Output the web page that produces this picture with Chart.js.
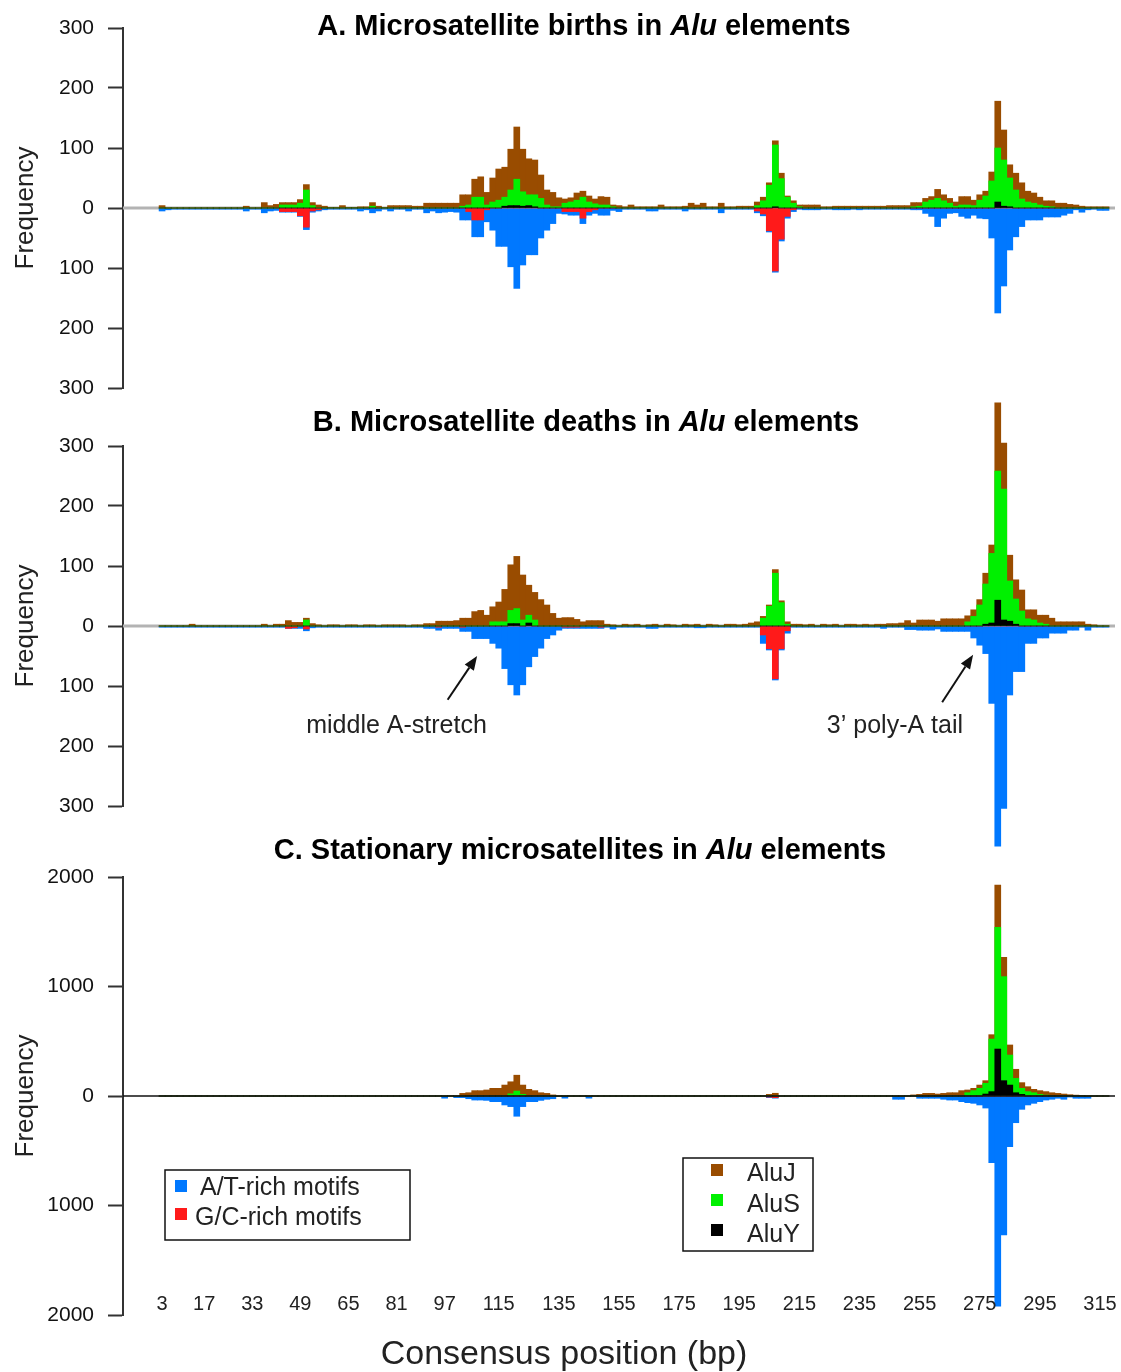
<!DOCTYPE html>
<html><head><meta charset="utf-8">
<script src="https://cdn.jsdelivr.net/npm/chart.js@4.4.1/dist/chart.umd.min.js"></script>
<style>
html,body{margin:0;padding:0;background:#fff;}
body{width:1121px;height:1372px;position:relative;overflow:hidden;}
canvas{position:absolute;left:0;}
</style></head><body>
<canvas id="cA" width="1121" height="416" style="top:0px"></canvas>
<canvas id="cB" width="1121" height="465" style="top:395px"></canvas>
<canvas id="cC" width="1121" height="552" style="top:820px"></canvas>
<script>
// Consensus positions (bin labels, 2 bp per bar)
const positions = [
3,5,7,9,11,13,15,17,19,21,
23,25,27,29,31,33,35,37,39,41,
43,45,47,49,51,53,55,57,59,61,
63,65,67,69,71,73,75,77,79,81,
83,85,87,89,91,93,95,97,99,101,
103,105,107,109,111,113,115,117,119,121,
123,125,127,129,131,133,135,137,139,141,
143,145,147,149,151,153,155,157,159,161,
163,165,167,169,171,173,175,177,179,181,
183,185,187,189,191,193,195,197,199,201,
203,205,207,209,211,213,215,217,219,221,
223,225,227,229,231,233,235,237,239,241,
243,245,247,249,251,253,255,257,259,261,
263,265,267,269,271,273,275,277,279,281,
283,285,287,289,291,293,295,297,299,301,
303,305,307,309,311,313,315,317];
const xTickLabels = [3,17,33,49,65,81,97,115,135,155,175,195,215,235,255,275,295,315];

// ---- Panel A: births ----
const A_AluJ = [
4,0,0,0,0,0,0,0,0,0,
0,0,0,0,3,0,0,9,4,6,
9,9,9,14,39,9,5,3,1,1,
4,1,1,2,2,9,3,1,4,4,
4,4,3,3,8,8,8,8,8,8,
22,22,48,52,26,50,65,68,98,135,
98,82,80,55,30,26,17,15,17,25,
28,20,15,19,18,5,4,2,5,2,
2,2,2,5,2,2,2,3,8,5,
8,2,2,8,2,2,3,3,3,10,
18,42,112,58,20,12,5,5,5,5,
2,2,3,3,3,3,3,3,3,3,
3,4,4,4,4,9,9,16,19,31,
22,16,10,19,19,13,22,28,60,178,
130,72,58,42,28,25,18,12,12,8,
8,6,5,3,2,2,2,2];
const A_AluS = [
0,0,0,0,0,0,0,0,0,0,
0,0,0,0,0,0,0,0,0,0,
5,5,5,8,30,4,0,0,0,0,
0,0,0,0,0,3,0,0,0,0,
0,0,0,0,0,0,0,0,0,0,
3,5,18,18,5,10,13,18,30,48,
27,22,22,16,5,2,2,8,10,13,
18,10,7,5,5,2,0,0,0,0,
0,0,0,0,0,0,0,0,0,0,
0,0,0,0,0,0,0,0,0,4,
12,38,105,49,18,8,2,0,0,0,
0,0,0,0,0,0,0,0,0,0,
0,0,0,0,0,2,3,10,13,16,
12,8,3,5,5,4,13,20,45,100,
80,50,30,15,10,8,5,3,2,0,
0,0,0,0,0,0,0,0];
const A_AluY = [
0,0,0,0,0,0,0,0,0,0,
0,0,0,0,0,0,0,0,0,0,
0,0,0,0,0,0,0,0,0,0,
0,0,0,0,0,0,0,0,0,0,
0,0,0,0,0,0,0,0,0,0,
0,0,0,0,0,0,0,3,4,4,
3,4,2,0,0,0,0,0,0,0,
0,0,0,0,0,0,0,0,0,0,
0,0,0,0,0,0,0,0,0,0,
0,0,0,0,0,0,0,0,0,0,
0,0,2,0,0,0,0,0,0,0,
0,0,0,0,0,0,0,0,0,0,
0,0,0,0,0,0,0,0,0,0,
0,0,0,0,0,0,0,0,0,10,
3,2,0,0,0,0,0,0,0,0,
0,0,0,0,0,0,0,0];
const A_AT = [
5,3,2,2,2,2,2,2,2,2,
2,2,2,2,5,2,2,8,5,4,
7,7,7,14,36,7,5,3,2,2,
2,2,2,5,3,8,5,2,5,2,
2,5,2,2,8,5,8,7,6,7,
20,20,48,48,23,37,64,64,98,134,
95,78,78,50,37,26,9,10,12,12,
26,12,9,12,12,4,6,2,2,2,
2,5,5,2,2,2,2,5,2,2,
2,2,2,8,2,2,2,2,2,8,
13,40,107,55,17,6,2,3,3,3,
2,2,3,3,3,2,3,2,2,2,
2,2,2,2,2,3,3,9,14,31,
17,9,8,14,17,12,17,18,50,175,
130,70,48,31,20,20,20,15,15,15,
12,9,3,7,3,2,4,4];
const A_GC = [
0,0,0,0,0,0,0,0,0,0,
0,0,0,0,0,0,0,0,0,0,
6,6,6,13,32,5,3,0,0,0,
0,0,0,0,0,0,0,0,0,0,
0,0,0,0,0,0,0,0,0,0,
0,6,20,20,3,0,0,0,0,0,
0,0,0,0,0,0,0,6,6,6,
17,6,3,0,0,0,0,0,0,0,
0,0,0,0,0,0,0,0,0,0,
0,0,0,0,0,0,0,0,0,5,
10,38,105,52,14,3,0,0,0,0,
0,0,0,0,0,0,0,0,0,0,
0,0,0,0,0,0,0,0,0,0,
0,0,0,0,0,0,0,0,0,0,
0,0,0,0,0,0,0,0,0,0,
0,0,0,0,0,0,0,0];

// ---- Panel B: deaths ----
const B_AluJ = [
0,0,0,0,0,3,0,0,0,0,
0,0,0,0,0,0,0,3,0,3,
3,9,6,6,13,4,2,0,2,2,
0,2,2,0,2,2,0,2,2,2,
2,0,2,2,4,4,8,8,8,9,
13,13,24,26,18,32,40,61,102,116,
85,68,56,44,35,21,13,14,14,11,
7,9,9,9,3,2,0,3,2,3,
0,2,3,0,3,2,0,3,2,3,
0,3,2,0,3,3,2,3,5,7,
16,35,94,42,7,3,3,2,3,0,
3,2,3,0,3,3,2,3,2,3,
3,4,4,5,9,5,10,10,10,8,
12,12,12,12,17,27,44,88,135,372,
305,118,77,60,27,27,18,18,13,7,
7,7,7,7,3,2,0,0];
const B_AluS = [
0,0,0,0,0,0,0,0,0,0,
0,0,0,0,0,0,0,0,0,0,
0,0,0,0,10,0,0,0,0,0,
0,0,0,0,0,0,0,0,0,0,
0,0,0,0,0,0,0,0,0,0,
0,0,0,0,0,7,7,7,26,29,
10,18,10,0,0,0,0,0,0,0,
0,0,0,0,0,0,0,0,0,0,
0,0,0,0,0,0,0,0,0,0,
0,0,0,0,0,0,0,0,0,0,
13,33,88,39,3,0,0,0,0,0,
0,0,0,0,0,0,0,0,0,0,
0,0,0,0,0,0,0,0,0,0,
0,0,0,0,7,16,35,70,121,258,
228,75,45,25,12,10,5,3,0,0,
0,0,0,0,0,0,0,0];
const B_AluY = [
0,0,0,0,0,0,0,0,0,0,
0,0,0,0,0,0,0,0,0,0,
0,0,0,0,0,0,0,0,0,0,
0,0,0,0,0,0,0,0,0,0,
0,0,0,0,0,0,0,0,0,0,
0,0,0,0,0,0,0,0,4,4,
0,5,0,0,0,0,0,0,0,0,
0,0,0,0,0,0,0,0,0,0,
0,0,0,0,0,0,0,0,0,0,
0,0,0,0,0,0,0,0,0,0,
0,0,0,0,0,0,0,0,0,0,
0,0,0,0,0,0,0,0,0,0,
0,0,0,0,0,0,0,0,0,0,
0,0,0,0,0,0,0,3,5,43,
10,8,3,0,0,0,0,0,0,0,
0,0,0,0,0,0,0,0];
const B_AT = [
2,2,2,2,2,2,2,2,2,2,
2,2,2,2,2,2,2,2,2,2,
2,4,4,4,8,3,2,2,2,2,
2,2,2,2,2,2,2,2,2,2,
2,2,2,2,4,4,7,4,4,4,
9,9,21,21,21,29,37,71,98,115,
98,68,51,37,21,15,7,4,4,4,
4,4,4,4,2,5,2,2,2,2,
2,4,4,2,2,2,2,2,2,3,
3,2,2,2,2,2,2,2,2,2,
29,40,90,40,12,2,2,2,2,2,
2,2,2,2,2,2,2,2,2,2,
4,2,2,2,6,6,7,7,7,5,
9,9,9,9,9,20,32,46,129,367,
304,115,76,76,29,29,20,20,12,12,
12,7,7,2,7,2,2,2];
const B_GC = [
0,0,0,0,0,0,0,0,0,0,
0,0,0,0,0,0,0,0,0,0,
0,4,3,0,5,0,0,0,0,0,
0,0,0,0,0,0,0,0,0,0,
0,0,0,0,0,0,2,0,0,0,
2,0,0,0,0,0,0,0,0,0,
0,0,0,0,0,0,0,2,2,2,
0,0,0,2,0,0,0,0,0,0,
0,0,0,0,0,0,0,0,0,0,
0,0,0,0,0,0,0,0,0,0,
15,38,88,38,8,0,0,0,0,0,
0,0,0,0,0,0,0,0,0,0,
0,0,0,0,0,0,0,0,0,0,
0,0,0,0,0,0,0,0,0,0,
0,0,0,0,0,0,0,0,0,0,
0,0,0,0,0,0,0,0];

// ---- Panel C: stationary ----
const C_AluJ = [
0,0,0,0,0,0,0,0,0,0,
0,0,0,0,0,0,0,0,0,0,
0,0,0,0,0,0,0,0,0,0,
0,0,0,0,0,0,0,0,0,0,
0,0,0,0,0,0,0,0,0,0,
24,30,49,49,55,70,70,100,130,190,
100,61,49,30,24,10,0,0,0,0,
0,0,0,0,0,0,0,0,0,0,
0,0,0,0,0,0,0,0,0,0,
0,0,0,0,0,0,0,0,0,0,
0,15,25,0,0,0,0,0,0,0,
0,0,0,0,0,0,0,0,0,0,
0,0,0,0,0,10,15,24,24,18,
24,30,30,49,55,70,100,140,560,1927,
1266,466,244,122,85,61,49,40,30,24,
18,12,8,5,0,0,0,0];
const C_AluS = [
0,0,0,0,0,0,0,0,0,0,
0,0,0,0,0,0,0,0,0,0,
0,0,0,0,0,0,0,0,0,0,
0,0,0,0,0,0,0,0,0,0,
0,0,0,0,0,0,0,0,0,0,
0,0,0,0,0,0,0,0,20,45,
15,0,0,0,0,0,0,0,0,0,
0,0,0,0,0,0,0,0,0,0,
0,0,0,0,0,0,0,0,0,0,
0,0,0,0,0,0,0,0,0,0,
0,0,0,0,0,0,0,0,0,0,
0,0,0,0,0,0,0,0,0,0,
0,0,0,0,0,0,0,0,0,0,
0,0,0,0,30,49,70,116,520,1540,
1090,374,161,70,40,30,15,8,0,0,
0,0,0,0,0,0,0,0];
const C_AluY = [
0,0,0,0,0,0,0,0,0,0,
0,0,0,0,0,0,0,0,0,0,
0,0,0,0,0,0,0,0,0,0,
0,0,0,0,0,0,0,0,0,0,
0,0,0,0,0,0,0,0,0,0,
0,0,0,0,0,0,0,0,0,0,
0,0,0,0,0,0,0,0,0,0,
0,0,0,0,0,0,0,0,0,0,
0,0,0,0,0,0,0,0,0,0,
0,0,0,0,0,0,0,0,0,0,
0,0,0,0,0,0,0,0,0,0,
0,0,0,0,0,0,0,0,0,0,
0,0,0,0,0,0,0,0,0,0,
0,0,0,0,0,0,0,18,40,429,
140,100,30,15,0,0,0,0,0,0,
0,0,0,0,0,0,0,0];
const C_AT = [
0,0,0,0,0,0,0,0,0,0,
0,0,0,0,0,0,0,0,0,0,
0,0,0,0,0,0,0,0,0,0,
0,0,0,0,0,0,0,0,0,0,
0,0,0,0,0,0,0,20,0,15,
15,25,37,37,40,52,52,82,97,185,
97,52,52,40,30,25,5,20,0,0,
0,20,0,0,0,0,0,0,0,0,
0,0,0,0,0,0,0,0,0,0,
0,0,0,0,0,0,0,0,0,0,
0,15,20,0,0,0,0,0,0,0,
0,0,0,0,0,0,0,0,0,0,
0,0,30,30,0,0,21,21,21,21,
30,37,37,52,61,67,82,110,609,1920,
1269,463,244,122,82,67,52,37,30,21,
30,10,21,21,21,0,0,0];
const C_GC = [
0,0,0,0,0,0,0,0,0,0,
0,0,0,0,0,0,0,0,0,0,
0,0,0,0,0,0,0,0,0,0,
0,0,0,0,0,0,0,0,0,0,
0,0,0,0,0,0,0,0,0,0,
0,0,0,0,0,0,0,0,0,0,
0,0,0,0,0,0,0,0,0,0,
0,0,0,0,0,0,0,0,0,0,
0,0,0,0,0,0,0,0,0,0,
0,0,0,0,0,0,0,0,0,0,
0,10,15,0,0,0,0,0,0,0,
0,0,0,0,0,0,0,0,0,0,
0,0,0,0,0,0,0,0,0,0,
0,0,0,0,0,0,0,0,0,0,
0,0,0,0,0,0,0,0,0,0,
0,0,0,0,0,0,0,0];

const seriesNames = ['AluJ','AluS','AluY','A/T-rich motifs','G/C-rich motifs'];
const COLORS = {AluJ:'#994c00', AluS:'#00f000', AluY:'#000000', AT:'#0078ff', GC:'#ff1a1a'};
const FONT = "'Liberation Sans', Arial, Helvetica, sans-serif";

function makeDatasets(J, S, Y, AT, GC) {
  const up = a => a.map((v, i) => ({x: positions[i], y: v}));
  const down = a => a.map((v, i) => ({x: positions[i], y: -v}));
  const common = {grouped: false, barPercentage: 1, categoryPercentage: 1, borderWidth: 0, clip: false};
  return [
    Object.assign({label: seriesNames[2], data: up(Y), backgroundColor: COLORS.AluY, order: 1}, common),
    Object.assign({label: seriesNames[1], data: up(S), backgroundColor: COLORS.AluS, order: 2}, common),
    Object.assign({label: seriesNames[0], data: up(J), backgroundColor: COLORS.AluJ, order: 3}, common),
    Object.assign({label: seriesNames[4], data: down(GC), backgroundColor: COLORS.GC, order: 4}, common),
    Object.assign({label: seriesNames[3], data: down(AT), backgroundColor: COLORS.AT, order: 5}, common)
  ];
}

function drawZero(chart, z) {
  const {ctx, chartArea} = chart;
  const y = chart.scales.y.getPixelForValue(0);
  ctx.save();
  ctx.strokeStyle = z.color; ctx.lineWidth = z.width;
  ctx.beginPath(); ctx.moveTo(chartArea.left, y); ctx.lineTo(chartArea.right, y); ctx.stroke();
  ctx.restore();
}
function drawTitle(ctx, t) {
  let total = 0;
  const fonts = t.parts.map(p => (p.italic ? 'italic ' : '') + 'bold 29px ' + FONT);
  const widths = t.parts.map((p, i) => { ctx.font = fonts[i]; return ctx.measureText(p.text).width; });
  widths.forEach(w => total += w);
  let x = t.cx - total / 2;
  ctx.fillStyle = '#000'; ctx.textAlign = 'left'; ctx.textBaseline = 'alphabetic';
  t.parts.forEach((p, i) => { ctx.font = fonts[i]; ctx.fillText(p.text, x, t.y); x += widths[i]; });
}
function drawNote(chart, n) {
  const xs = chart.scales.x, ys = chart.scales.y, ctx = chart.ctx;
  ctx.font = '25px ' + FONT; ctx.fillStyle = '#222'; ctx.textAlign = 'center'; ctx.textBaseline = 'alphabetic';
  ctx.fillText(n.text, xs.getPixelForValue(n.tx), ys.getPixelForValue(n.ty));
  const x1 = xs.getPixelForValue(n.from[0]), y1 = ys.getPixelForValue(n.from[1]);
  const x2 = xs.getPixelForValue(n.to[0]), y2 = ys.getPixelForValue(n.to[1]);
  const a = Math.atan2(y2 - y1, x2 - x1), L = 14, W = 5.5;
  const bx = x2 - L * Math.cos(a), by = y2 - L * Math.sin(a);
  ctx.strokeStyle = '#111'; ctx.fillStyle = '#111'; ctx.lineWidth = 2;
  ctx.beginPath(); ctx.moveTo(x1, y1); ctx.lineTo(bx, by); ctx.stroke();
  ctx.beginPath(); ctx.moveTo(x2, y2);
  ctx.lineTo(bx + W * Math.sin(a), by - W * Math.cos(a));
  ctx.lineTo(bx - W * Math.sin(a), by + W * Math.cos(a));
  ctx.closePath(); ctx.fill();
}
function drawLegend(ctx, L) {
  ctx.strokeStyle = '#111'; ctx.lineWidth = 1.5;
  ctx.strokeRect(L.x, L.y, L.w, L.h);
  ctx.font = '25px ' + FONT; ctx.textAlign = 'left'; ctx.textBaseline = 'middle';
  L.items.forEach(it => {
    ctx.fillStyle = it.color; ctx.fillRect(it.sx, it.sy, 12, 12);
    ctx.fillStyle = '#222'; ctx.fillText(it.text, it.tx, it.ty);
  });
}
function drawXTicks(chart, xt) {
  const ctx = chart.ctx, xs = chart.scales.x;
  ctx.font = '20px ' + FONT; ctx.fillStyle = '#222'; ctx.textAlign = 'center'; ctx.textBaseline = 'middle';
  xTickLabels.forEach(v => ctx.fillText(String(v), xs.getPixelForValue(v), xt.y));
}
function makeDecor(cfg) {
  return {
    id: 'decor',
    beforeDatasetsDraw(chart) { if (cfg.zero && !cfg.zero.above) drawZero(chart, cfg.zero); },
    afterDatasetsDraw(chart) { if (cfg.zero && cfg.zero.above) drawZero(chart, cfg.zero); },
    afterDraw(chart) {
      const ctx = chart.ctx;
      ctx.save();
      if (cfg.title) drawTitle(ctx, cfg.title);
      (cfg.notes || []).forEach(n => drawNote(chart, n));
      (cfg.legends || []).forEach(l => drawLegend(ctx, l));
      if (cfg.xTicks) drawXTicks(chart, cfg.xTicks);
      if (cfg.xTitle) {
        ctx.font = '34px ' + FONT; ctx.fillStyle = '#222'; ctx.textAlign = 'center'; ctx.textBaseline = 'alphabetic';
        ctx.fillText(cfg.xTitle.text, cfg.xTitle.x, cfg.xTitle.y);
      }
      ctx.restore();
    }
  };
}

function makeChart(id, ds, o) {
  return new Chart(document.getElementById(id), {
    type: 'bar',
    data: {datasets: ds},
    options: {
      responsive: false, animation: false, devicePixelRatio: 1,
      layout: {padding: {top: o.padTop, bottom: o.padBottom, left: 0, right: 6}},
      plugins: {legend: {display: false}, tooltip: {enabled: false}, title: {display: false}},
      scales: {
        x: {type: 'linear', min: -10, max: 320, offset: false, display: false},
        y: {
          min: -o.yMax, max: o.yMax,
          ticks: {stepSize: o.step, callback: v => String(Math.abs(v)), color: '#111', padding: 14, font: {family: FONT, size: 21}},
          grid: {drawOnChartArea: false, tickLength: 15, tickColor: '#333', tickWidth: 2},
          border: {color: '#333', width: 2},
          title: {display: true, text: 'Frequency', color: '#222', font: {family: FONT, size: 26}, padding: {top: 10, bottom: 0}},
          afterFit: s => { s.width = 123; }
        }
      }
    },
    plugins: [makeDecor(o.decor)]
  });
}

makeChart('cA', makeDatasets(A_AluJ, A_AluS, A_AluY, A_AT, A_GC), {
  yMax: 300, step: 100, padTop: 28, padBottom: 28,
  decor: {
    zero: {color: '#b3b3b3', width: 3, above: false},
    title: {cx: 584, y: 35, parts: [{text: 'A. Microsatellite births in '}, {text: 'Alu', italic: true}, {text: ' elements'}]}
  }
});

makeChart('cB', makeDatasets(B_AluJ, B_AluS, B_AluY, B_AT, B_GC), {
  yMax: 300, step: 100, padTop: 51, padBottom: 54,
  decor: {
    zero: {color: '#b3b3b3', width: 3, above: false},
    title: {cx: 586, y: 36, parts: [{text: 'B. Microsatellite deaths in '}, {text: 'Alu', italic: true}, {text: ' elements'}]},
    notes: [
      {text: 'middle A-stretch', tx: 81, ty: -178, from: [98, -123], to: [107.8, -50]},
      {text: '3\u2019 poly-A tail', tx: 246.8, ty: -178, from: [262.5, -127], to: [272.8, -48]}
    ]
  }
});

makeChart('cC', makeDatasets(C_AluJ, C_AluS, C_AluY, C_AT, C_GC), {
  yMax: 2000, step: 1000, padTop: 57, padBottom: 57,
  decor: {
    zero: {color: '#111', width: 1.5, above: true},
    title: {cx: 580, y: 39, parts: [{text: 'C. Stationary microsatellites in '}, {text: 'Alu', italic: true}, {text: ' elements'}]},
    xTicks: {y: 484},
    xTitle: {text: 'Consensus position (bp)', x: 564, y: 544},
    legends: [
      {x: 165, y: 350, w: 245, h: 70, items: [
        {color: COLORS.AT, sx: 175, sy: 360, text: seriesNames[3], tx: 200, ty: 368},
        {color: COLORS.GC, sx: 175, sy: 388, text: seriesNames[4], tx: 195, ty: 398}
      ]},
      {x: 683, y: 338, w: 130, h: 93, items: [
        {color: COLORS.AluJ, sx: 711, sy: 344, text: seriesNames[0], tx: 747, ty: 354},
        {color: COLORS.AluS, sx: 711, sy: 374, text: seriesNames[1], tx: 747, ty: 385},
        {color: COLORS.AluY, sx: 711, sy: 404, text: seriesNames[2], tx: 747, ty: 415}
      ]}
    ]
  }
});
</script>
</body></html>
